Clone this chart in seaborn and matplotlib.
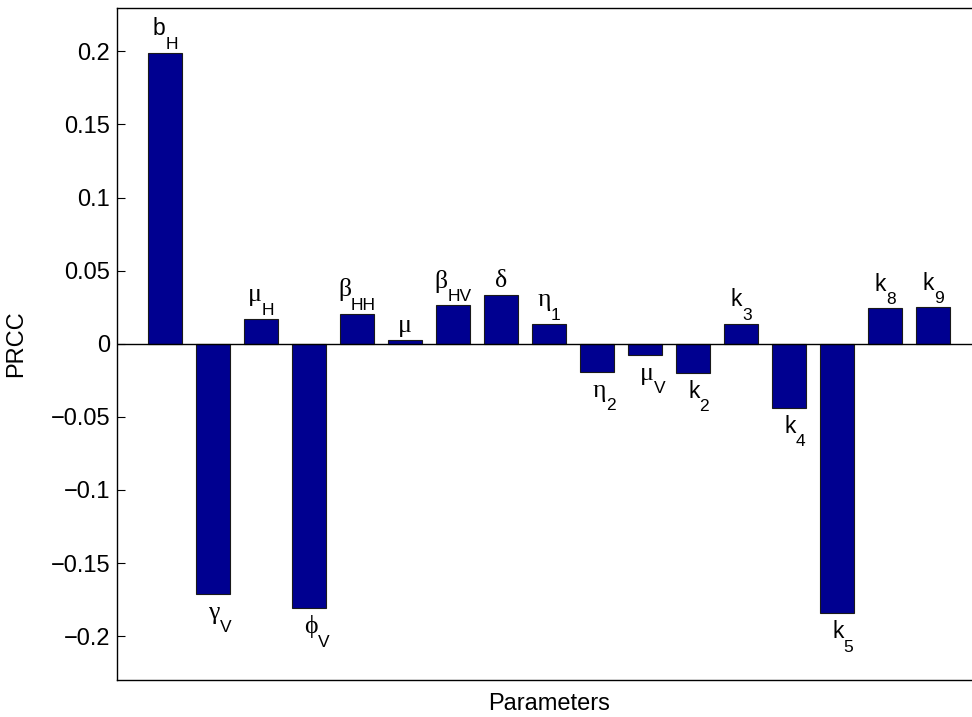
import matplotlib
matplotlib.use("Agg")
import matplotlib.pyplot as plt
import seaborn as sns
import pandas as pd

# Parameter names: base symbol and subscript, plus their PRCC values
param_base = ["b", "\u03b3", "\u03bc", "\u03d5", "\u03b2", "\u03bc", "\u03b2", "\u03b4", "\u03b7",
              "\u03b7", "\u03bc", "k", "k", "k", "k", "k", "k"]
param_sub = ["H", "V", "H", "V", "HH", "", "HV", "", "1",
             "2", "V", "2", "3", "4", "5", "8", "9"]
prcc = [0.199, -0.171, 0.0171, -0.181, 0.0205, 0.0023,
        0.0262, 0.0333, 0.0137, -0.0194, -0.0075, -0.0201,
        0.0137, -0.0441, -0.1845, 0.0242, 0.0251]
ytick_vals = [-0.2, -0.15, -0.1, -0.05, 0, 0.05, 0.1, 0.15, 0.2]

sns.set_theme(style="white")
plt.rcParams["font.family"] = ["Liberation Sans", "DejaVu Sans"]
for key in ["text.color", "axes.labelcolor", "xtick.color", "ytick.color"]:
    plt.rcParams[key] = "black"

names = [b + s for b, s in zip(param_base, param_sub)]
df = pd.DataFrame({"param": names, "prcc": prcc})

DPI = 100
fig = plt.figure(figsize=(9.72, 7.17), dpi=DPI)
ax = fig.add_axes([117 / 972, 1 - 680 / 717, 864 / 972, 672.5 / 717])

sns.barplot(data=df, x="param", y="prcc", order=names, color="#000090",
            saturation=1, width=0.7, edgecolor="#1a1a1a", linewidth=0.8,
            errorbar=None, ax=ax)

ax.axhline(0, color="black", linewidth=1.0, zorder=3)

ax.set_xlim(-1, 17)
ax.set_ylim(-0.23, 0.23)
ax.set_xticks([])
ax.set_xlabel("")
ax.set_yticks(ytick_vals)
ax.set_yticklabels([f"{v:g}".replace("-", "\u2212") for v in ytick_vals])
ax.tick_params(axis="y", direction="in", length=6, width=0.8, pad=5,
               labelsize=17, left=True, right=True)

for side in ["top", "bottom", "left", "right"]:
    ax.spines[side].set_visible(True)
    ax.spines[side].set_color("black")
    ax.spines[side].set_linewidth(1.0)

# Parameter labels: base glyph with a dropped, smaller subscript
MAIN_SIZE = 16.5
GREEK_SIZE = 18.5
SUB_SIZE = 12.5
SUB_DROP = 9.5          # points between base and subscript baselines
greek_family = ["Liberation Serif", "DejaVu Serif"]
sans_family = ["Liberation Sans", "DejaVu Sans"]

renderer = fig.canvas.get_renderer()
px2pt = 72.0 / DPI

for i, (base, sub, v) in enumerate(zip(param_base, param_sub, prcc)):
    latin = base.isascii()
    fam = sans_family if latin else greek_family
    size = MAIN_SIZE if latin else GREEK_SIZE
    main = ax.annotate(base, xy=(i, v), xytext=(0, 0), textcoords="offset points",
                       ha="left", va="baseline", fontsize=size, family=fam)
    subt = None
    if sub:
        subt = ax.annotate(sub, xy=(i, v), xytext=(0, 0), textcoords="offset points",
                           ha="left", va="baseline", fontsize=SUB_SIZE, family=sans_family)
    w_main = main.get_window_extent(renderer).width * px2pt
    w_sub = subt.get_window_extent(renderer).width * px2pt if subt else 0.0

    if v >= 0:
        x0 = -(w_main + w_sub) / 2
        y_main = 12.5 if sub else 6.0
    else:
        x0 = -3.5
        y_main = -18.0
    main.xyann = (x0, y_main)
    if subt:
        subt.xyann = (x0 + w_main, y_main - SUB_DROP)

ax.set_ylabel("PRCC", fontsize=17)
ax.yaxis.set_label_coords(-0.104, 0.5)
fig.text(ax.get_position().x0 + ax.get_position().width / 2, 1 - 710 / 717,
         "Parameters", ha="center", va="baseline", fontsize=17)

fig.savefig("out.png", dpi=DPI)
